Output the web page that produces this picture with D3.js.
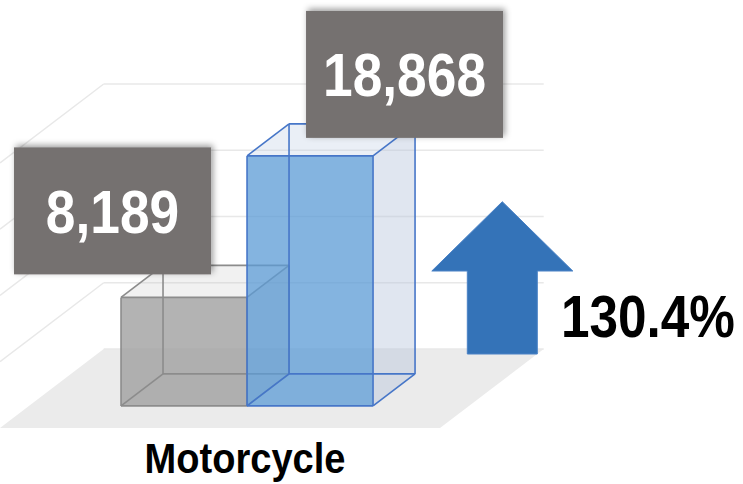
<!DOCTYPE html>
<html>
<head>
<meta charset="utf-8">
<script src="https://cdn.jsdelivr.net/npm/d3@7"></script>
<style>
  html, body { margin: 0; padding: 0; background: #fff; }
  svg { display: block; }
  text { font-family: "Liberation Sans", Arial, sans-serif; font-weight: bold; }
</style>
</head>
<body>
<svg id="chart" width="743" height="484"></svg>
<script>
'use strict';

// data
const categories = ["Motorcycle"];
const seriesNames = ["Before", "After"];
const seriesValues = [8189, 18868];
const growthLabel = "130.4%";
const gridTicks = [0, 5000, 10000, 15000, 20000];

const svg = d3.select("#chart");
const floorY = 428;
const depth = { dx: 103.7, dy: 79 };
const barZ = [0.28, 0.685];

const y = d3.scaleLinear().domain([0, 20000]).range([0, 265]);
const x = d3.scaleBand().domain(categories).range([0, 436]);
const xs = d3.scaleBand().domain(seriesNames).range([0, x.bandwidth()])
  .paddingInner(0).paddingOuter(0.73);

const fill = {
  Before: { edge: "#8c8c8c", front: "rgba(160,160,160,0.8)", top: "rgba(190,190,190,0.22)", side: "rgba(150,150,150,0.3)" },
  After: { edge: "#4676c8", front: "rgba(91,155,213,0.75)", top: "rgba(190,205,228,0.32)", side: "rgba(180,195,220,0.42)" }
};
const labelShift = { Before: { dx: -107, dy: -23 }, After: { dx: 59, dy: -18 } };

// project world point (x at front plane, depth z 0..1, value v) to screen
const p = (xw, z, v) => [xw + z * depth.dx, floorY - z * depth.dy - y(v)];
const poly = pts => "M" + pts.map(d => d.join(",")).join("L") + "Z";

// condensed bold text: squeeze horizontally around the anchor point
function narrowText(parent, tx, ty, squeeze, size, anchor, color, str) {
  return parent.append("text")
    .attr("transform", `translate(${tx},${ty}) scale(${squeeze},1)`)
    .attr("text-anchor", anchor)
    .attr("font-size", size)
    .attr("fill", color)
    .text(str);
}

const defs = svg.append("defs");
const shadow = defs.append("filter").attr("id", "shadow")
  .attr("x", "-20%").attr("y", "-20%").attr("width", "140%").attr("height", "140%");
shadow.append("feDropShadow").attr("dx", 2).attr("dy", -2)
  .attr("stdDeviation", 3).attr("flood-color", "#000").attr("flood-opacity", 0.4);

// floor
const [fx0, fx1] = [0, 440];
svg.append("path")
  .attr("d", poly([p(fx0, 0, 0), p(fx1, 0, 0), p(fx1, 1, 0), p(fx0, 1, 0)]))
  .attr("fill", "#ebebeb");

// grid lines on back and left wall
const grid = svg.append("g").attr("stroke", "#e8e8e8").attr("stroke-width", 1.5).attr("fill", "none");
grid.selectAll("path.back")
  .data(gridTicks)
  .join("path")
  .attr("class", "back")
  .attr("d", d => "M" + p(fx0, 1, d) + "L" + p(fx1, 1, d));
grid.selectAll("path.side")
  .data(gridTicks.slice(1))
  .join("path")
  .attr("class", "side")
  .attr("d", d => "M" + p(fx0, 1, d) + "L" + p(fx0, 0, d));

// bars
const bars = svg.append("g");
seriesNames.forEach((name, i) => {
  const v = seriesValues[i];
  const x0 = x(categories[0]) + xs(name);
  const x1 = x0 + xs.bandwidth();
  const [z0, z1] = barZ;
  const c = {
    FBL: p(x0, z0, 0), FBR: p(x1, z0, 0), FTL: p(x0, z0, v), FTR: p(x1, z0, v),
    BBL: p(x0, z1, 0), BBR: p(x1, z1, 0), BTL: p(x0, z1, v), BTR: p(x1, z1, v)
  };
  const st = fill[name];
  const g = bars.append("g");
  g.append("path").attr("d", poly([c.FBR, c.BBR, c.BTR, c.FTR])).attr("fill", st.side);
  g.append("path").attr("d", poly([c.FTL, c.FTR, c.BTR, c.BTL])).attr("fill", st.top);
  g.append("path").attr("d", poly([c.FBL, c.FBR, c.FTR, c.FTL])).attr("fill", st.front);
  const edges = [
    ["FBL", "FBR"], ["FBR", "FTR"], ["FTR", "FTL"], ["FTL", "FBL"],
    ["BBL", "BBR"], ["BBR", "BTR"], ["BTR", "BTL"], ["BTL", "BBL"],
    ["FBL", "BBL"], ["FBR", "BBR"], ["FTL", "BTL"], ["FTR", "BTR"]
  ];
  g.selectAll("line")
    .data(edges)
    .join("line")
    .attr("x1", d => c[d[0]][0]).attr("y1", d => c[d[0]][1])
    .attr("x2", d => c[d[1]][0]).attr("y2", d => c[d[1]][1])
    .attr("stroke", st.edge)
    .attr("stroke-width", 1.6);
});

// value labels
const boxW = 197, boxH = 127;
seriesNames.forEach((name, i) => {
  const v = seriesValues[i];
  const top = p(x(categories[0]) + xs(name), barZ[0], v);
  const bx = top[0] + labelShift[name].dx;
  const by = top[1] + labelShift[name].dy - boxH;
  const lg = svg.append("g");
  lg.append("rect")
    .attr("x", bx).attr("y", by)
    .attr("width", boxW).attr("height", boxH)
    .attr("fill", "#757170")
    .attr("filter", "url(#shadow)");
  narrowText(lg, bx + boxW / 2, by + boxH / 2 + 22, 0.86, 62, "middle", "#fff", d3.format(",")(v));
});

// category label
narrowText(svg, p(x(categories[0]) + x.bandwidth() / 2, barZ[0], 0)[0] - 2, 473,
  0.885, 43, "middle", "#000", categories[0]);

// growth arrow
const ax = 502.3, aTop = 201.7, aHead = 271, aBottom = 354;
svg.append("path")
  .attr("d", poly([
    [ax, aTop], [ax + 70.5, aHead], [ax + 35, aHead], [ax + 35, aBottom],
    [ax - 35, aBottom], [ax - 35, aHead], [ax - 70.5, aHead]
  ]))
  .attr("fill", "#3473b8")
  .attr("stroke", "#4a82c6")
  .attr("stroke-width", 1);

narrowText(svg, 561, 336.5, 0.855, 60, "start", "#000", growthLabel);
</script>
</body>
</html>
